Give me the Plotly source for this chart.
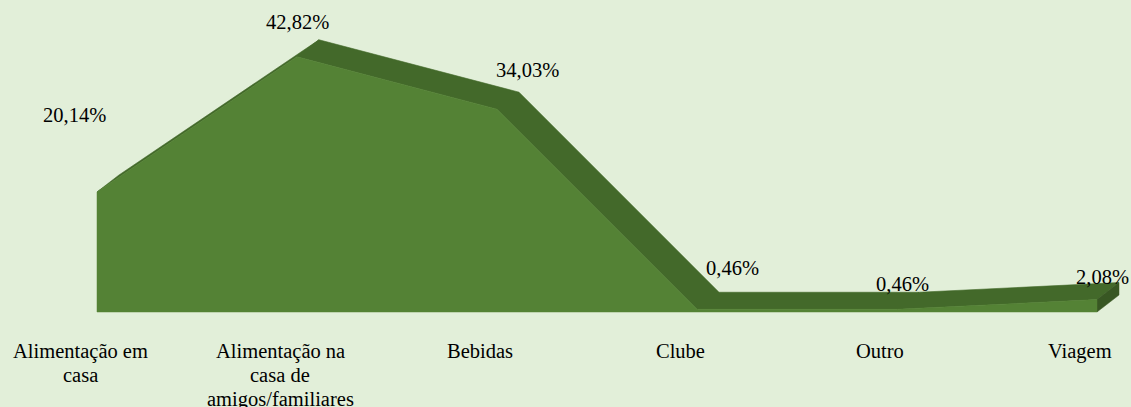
import plotly.graph_objects as go

categories = ["Alimentação em<br>casa", "Alimentação na<br>casa de<br>amigos/familiares",
              "Bebidas", "Clube", "Outro", "Viagem"]
values = [20.14, 42.82, 34.03, 0.46, 0.46, 2.08]
value_labels = ["20,14%", "42,82%", "34,03%", "0,46%", "0,46%", "2,08%"]

# style / layout constants (pixels)
W, H = 1131, 407
PX_PER_CAT = 200.0
PX_PER_UNIT = 5.96
LEFT_PX = 97
BASE_PX = 312
DEPTH_X_PX, DEPTH_Y_PX = 22, 17
label_shifts = [(-23, 77), (0, 35), (30, 39), (35, 41), (5, 25), (5, 23)]

BG = "#E2EFD9"
FRONT = "#548235"
TOP = "#43692A"
SIDE = "#385723"
FONT = "Liberation Serif, Times New Roman, DejaVu Serif, serif"

x0 = -LEFT_PX / PX_PER_CAT
x1 = x0 + W / PX_PER_CAT
y0 = -(H - BASE_PX) / PX_PER_UNIT
y1 = BASE_PX / PX_PER_UNIT
dx = DEPTH_X_PX / PX_PER_CAT
dy = DEPTH_Y_PX / PX_PER_UNIT

n = len(values)
xs = list(range(n))

fig = go.Figure()

# top ribbon (depth) faces
rx, ry = [], []
for i in range(n - 1):
    rx += [xs[i], xs[i + 1], xs[i + 1] + dx, xs[i] + dx, xs[i], None]
    ry += [values[i], values[i + 1], values[i + 1] + dy, values[i] + dy, values[i], None]
fig.add_trace(go.Scatter(x=rx, y=ry, fill="toself", fillcolor=TOP, mode="lines",
                         line=dict(width=0.6, color=TOP), hoverinfo="skip", showlegend=False))

# right side face
fig.add_trace(go.Scatter(
    x=[xs[-1], xs[-1], xs[-1] + dx, xs[-1] + dx, xs[-1]],
    y=[0, values[-1], values[-1] + dy, dy, 0],
    fill="toself", fillcolor=SIDE, mode="lines", line=dict(width=0.5, color=SIDE),
    hoverinfo="skip", showlegend=False))

# front face
fig.add_trace(go.Scatter(
    x=xs + [xs[-1], xs[0], xs[0]],
    y=values + [0, 0, values[0]],
    fill="toself", fillcolor=FRONT, mode="lines", line=dict(width=0.5, color=FRONT),
    hoverinfo="skip", showlegend=False))

# value labels
for i, (v, t) in enumerate(zip(values, value_labels)):
    sx, sy = label_shifts[i]
    fig.add_annotation(x=xs[i], y=v, text=t, showarrow=False, xshift=sx, yshift=sy,
                       xanchor="center", yanchor="middle",
                       font=dict(family=FONT, size=20.5, color="#000000"))

# category labels (one annotation per line)
for i, c in enumerate(categories):
    for k, line in enumerate(c.split("<br>")):
        fig.add_annotation(x=xs[i], y=0, text=line, showarrow=False,
                           xshift=-17, yshift=-39 - 24 * k,
                           xanchor="center", yanchor="middle",
                           font=dict(family=FONT, size=20.5, color="#000000"))

fig.update_layout(
    width=W, height=H, margin=dict(l=0, r=0, t=0, b=0),
    paper_bgcolor=BG, plot_bgcolor=BG,
    font=dict(family=FONT),
    xaxis=dict(range=[x0, x1], visible=False, fixedrange=True),
    yaxis=dict(range=[y0, y1], visible=False, fixedrange=True),
    showlegend=False,
)

fig.write_html("out.html", config={"displayModeBar": False},
               post_script="document.body.style.margin='0';document.body.style.background='" + BG + "';")
